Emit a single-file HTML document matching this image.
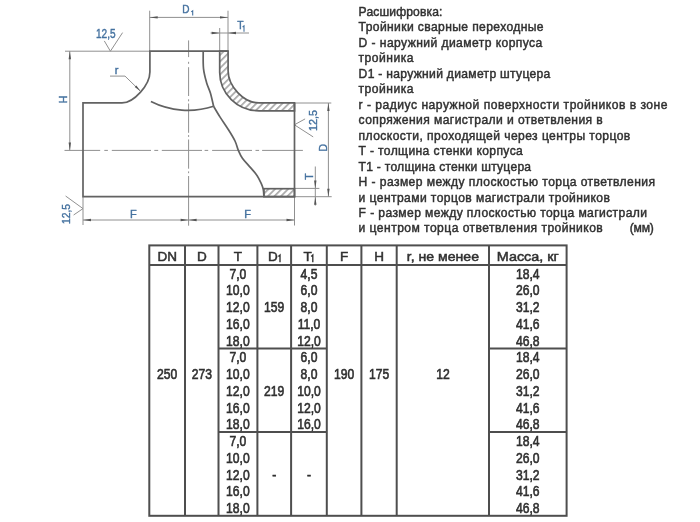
<!DOCTYPE html>
<html><head><meta charset="utf-8"><title>Тройники</title>
<style>
html,body{margin:0;padding:0;background:#fff;width:700px;height:522px;overflow:hidden}
svg{display:block;filter:blur(0.3px)}
text{font-family:"Liberation Sans",sans-serif}
</style></head><body>
<svg width="700" height="522" viewBox="0 0 700 522">
<defs><pattern id="h" patternUnits="userSpaceOnUse" width="4.61" height="4.61" patternTransform="rotate(45)"><line x1="0.88" y1="-1" x2="0.88" y2="6" stroke="#969696" stroke-width="1.4"/></pattern></defs>
<line x1="65" y1="51.2" x2="150" y2="51.2" stroke="#909090" stroke-width="1.0"/>
<line x1="149.7" y1="10.7" x2="149.7" y2="51.2" stroke="#909090" stroke-width="1.0"/>
<line x1="228" y1="10.7" x2="228" y2="51.2" stroke="#909090" stroke-width="1.0"/>
<line x1="219.7" y1="28" x2="219.7" y2="51.2" stroke="#909090" stroke-width="1.0"/>
<line x1="149.7" y1="17.4" x2="228" y2="17.4" stroke="#909090" stroke-width="1.0"/>
<path d="M149.7,17.4 L157.7,16.2 L157.7,18.6 Z" fill="#555"/>
<path d="M228.0,17.4 L220.0,18.6 L220.0,16.2 Z" fill="#555"/>
<line x1="210.5" y1="33" x2="249" y2="33" stroke="#909090" stroke-width="1.0"/>
<path d="M219.7,33.0 L211.7,34.2 L211.7,31.8 Z" fill="#555"/>
<path d="M228.0,33.0 L236.0,31.8 L236.0,34.2 Z" fill="#555"/>
<line x1="69.8" y1="51.2" x2="69.8" y2="150.4" stroke="#909090" stroke-width="1.0"/>
<path d="M69.8,51.2 L71.0,59.2 L68.6,59.2 Z" fill="#555"/>
<path d="M69.8,150.4 L68.6,142.4 L71.0,142.4 Z" fill="#555"/>
<line x1="64.5" y1="150.4" x2="100.2" y2="150.4" stroke="#909090" stroke-width="1.0"/>
<line x1="104.3" y1="150.4" x2="107.9" y2="150.4" stroke="#909090" stroke-width="1.0"/>
<line x1="111.8" y1="150.4" x2="151" y2="150.4" stroke="#909090" stroke-width="1.0"/>
<line x1="154.3" y1="150.4" x2="158.2" y2="150.4" stroke="#909090" stroke-width="1.0"/>
<line x1="161.8" y1="150.4" x2="202" y2="150.4" stroke="#909090" stroke-width="1.0"/>
<line x1="204.6" y1="150.4" x2="208.2" y2="150.4" stroke="#909090" stroke-width="1.0"/>
<line x1="212.1" y1="150.4" x2="252" y2="150.4" stroke="#909090" stroke-width="1.0"/>
<line x1="255.5" y1="150.4" x2="259.1" y2="150.4" stroke="#909090" stroke-width="1.0"/>
<line x1="262.1" y1="150.4" x2="302.9" y2="150.4" stroke="#909090" stroke-width="1.0"/>
<line x1="188.6" y1="40.4" x2="188.6" y2="57.1" stroke="#909090" stroke-width="1.0"/>
<line x1="188.6" y1="61.8" x2="188.6" y2="63.8" stroke="#909090" stroke-width="1.0"/>
<line x1="188.6" y1="67.2" x2="188.6" y2="96" stroke="#909090" stroke-width="1.0"/>
<line x1="188.6" y1="99.3" x2="188.6" y2="101.3" stroke="#909090" stroke-width="1.0"/>
<line x1="188.6" y1="103.5" x2="188.6" y2="132.8" stroke="#909090" stroke-width="1.0"/>
<line x1="188.6" y1="135.1" x2="188.6" y2="136.9" stroke="#909090" stroke-width="1.0"/>
<line x1="188.6" y1="139.5" x2="188.6" y2="168.7" stroke="#909090" stroke-width="1.0"/>
<line x1="188.6" y1="171.4" x2="188.6" y2="173.2" stroke="#909090" stroke-width="1.0"/>
<line x1="188.6" y1="176" x2="188.6" y2="225.7" stroke="#909090" stroke-width="1.0"/>
<line x1="83" y1="196.7" x2="83" y2="225" stroke="#909090" stroke-width="1.0"/>
<line x1="294.5" y1="196.7" x2="294.5" y2="225.5" stroke="#909090" stroke-width="1.0"/>
<line x1="83" y1="220" x2="294.5" y2="220" stroke="#909090" stroke-width="1.0"/>
<path d="M83.0,220.0 L91.0,218.8 L91.0,221.2 Z" fill="#555"/>
<path d="M188.6,220.0 L180.6,221.2 L180.6,218.8 Z" fill="#555"/>
<path d="M188.6,220.0 L196.6,218.8 L196.6,221.2 Z" fill="#555"/>
<path d="M294.5,220.0 L286.5,221.2 L286.5,218.8 Z" fill="#555"/>
<line x1="294.5" y1="103" x2="331.3" y2="103" stroke="#909090" stroke-width="1.0"/>
<line x1="294.5" y1="188.4" x2="319.4" y2="188.4" stroke="#909090" stroke-width="1.0"/>
<line x1="294.5" y1="196.7" x2="331.7" y2="196.7" stroke="#909090" stroke-width="1.0"/>
<line x1="328.4" y1="103" x2="328.4" y2="196.7" stroke="#909090" stroke-width="1.0"/>
<path d="M328.4,103.0 L329.6,111.0 L327.2,111.0 Z" fill="#555"/>
<path d="M328.4,196.7 L327.2,188.7 L329.6,188.7 Z" fill="#555"/>
<line x1="315.3" y1="166.5" x2="315.3" y2="205.6" stroke="#909090" stroke-width="1.0"/>
<path d="M315.3,188.4 L314.1,180.4 L316.5,180.4 Z" fill="#555"/>
<path d="M315.3,196.7 L316.5,204.7 L314.1,204.7 Z" fill="#555"/>
<path d="M110,76.1 L125,76.1 L140,90.7" fill="none" stroke="#909090" stroke-width="1.0"/>
<path d="M140.5,91.2 L134.7,87.1 L136.4,85.4 Z" fill="#555"/>
<path d="M104.3,40.9 L110.4,51.2 L122.6,32.6" fill="none" stroke="#909090" stroke-width="1.0"/>
<path d="M65.6,196 L83,208.6 L73.6,215" fill="none" stroke="#909090" stroke-width="1.0"/>
<path d="M305.1,118.9 L294.4,124.8 L313.2,136.9" fill="none" stroke="#909090" stroke-width="1.0"/>
<path d="M219.7,51.2 L228.1,51.2 L228.1,70.8 C228.1,86 243.5,102.9 259,102.9 L294.5,102.9 L294.5,110.8 L259,110.8 C237.4,110.8 219.7,93.6 219.7,72.6 Z" fill="url(#h)" stroke="#626262" stroke-width="1.7"/>
<rect x="263.9" y="188.7" width="30.6" height="8" fill="url(#h)" stroke="#626262" stroke-width="1.7"/>
<path d="M228.1,51.2 L149.9,51.2 L149.9,72 C149.9,85 133.7,102.9 122,102.9 L83,102.9 L83,196.7 L294.5,196.7 L294.5,102.9" fill="none" stroke="#626262" stroke-width="1.7" stroke-linejoin="miter"/>
<path d="M150.9,101.6 A82.5,82.5 0 0 0 213.6,106.3" fill="none" stroke="#626262" stroke-width="1.7"/>
<path d="M203.2,51.2 C203.25,54.10 202.93,63.35 203.5,68.6 C204.07,73.85 205.45,78.63 206.6,82.7 C207.75,86.77 209.23,89.07 210.4,93 C211.57,96.93 213.07,104.08 213.6,106.3" fill="none" stroke="#626262" stroke-width="1.7"/>
<path d="M213.6,106.3 C214.68,108.10 217.68,113.28 220.1,117.1 C222.52,120.92 225.62,125.22 228.1,129.2 C230.58,133.18 233.30,137.48 235,141 C236.70,144.52 237.07,147.42 238.3,150.3 C239.53,153.18 240.40,155.45 242.4,158.3 C244.40,161.15 247.87,164.55 250.3,167.4 C252.73,170.25 255.18,172.73 257,175.4 C258.82,178.07 260.15,181.05 261.2,183.4 C262.25,185.75 262.85,187.28 263.3,189.5 C263.75,191.72 263.80,195.50 263.9,196.7" fill="none" stroke="#626262" stroke-width="1.7"/>
<text x="96" y="38" font-size="12" fill="#44719f" stroke="#44719f" stroke-width="0.4" text-anchor="start" textLength="19.6" lengthAdjust="spacingAndGlyphs">12,5</text>
<text x="182.3" y="12.7" font-size="10" fill="#44719f" stroke="#44719f" stroke-width="0.4" text-anchor="start" >D</text>
<path d="M191.2,11.9 L192.7,10.8 L192.7,15.6" fill="none" stroke="#44719f" stroke-width="1.1"/>
<text x="237.2" y="28.7" font-size="10.3" fill="#44719f" stroke="#44719f" stroke-width="0.4" text-anchor="start" >T</text>
<path d="M242.6,27.0 L244.0,25.9 L244.0,31.8" fill="none" stroke="#44719f" stroke-width="1.1"/>
<text x="114.8" y="73.6" font-size="11" fill="#44719f" stroke="#44719f" stroke-width="0.4" text-anchor="start" >r</text>
<text x="130.1" y="217.8" font-size="11" fill="#44719f" stroke="#44719f" stroke-width="0.4" text-anchor="start" >F</text>
<text x="244.3" y="218" font-size="11" fill="#44719f" stroke="#44719f" stroke-width="0.4" text-anchor="start" >F</text>
<text transform="translate(66.5,103.2) rotate(-90)" font-size="10.5" fill="#44719f" stroke="#44719f" stroke-width="0.4">H</text>
<text transform="translate(70,224) rotate(-90)" font-size="11" fill="#44719f" stroke="#44719f" stroke-width="0.4" textLength="20" lengthAdjust="spacingAndGlyphs">12,5</text>
<text transform="translate(317.2,131) rotate(-90)" font-size="11" fill="#44719f" stroke="#44719f" stroke-width="0.4" textLength="21" lengthAdjust="spacingAndGlyphs">12,5</text>
<text transform="translate(327.3,151.4) rotate(-90)" font-size="10.5" fill="#44719f" stroke="#44719f" stroke-width="0.4">D</text>
<text transform="translate(313,179.8) rotate(-90)" font-size="10.5" fill="#44719f" stroke="#44719f" stroke-width="0.4">T</text>
<text x="358.6" y="16.00" font-size="12.1" fill="#303030" stroke="#303030" stroke-width="0.45" textLength="83.8" lengthAdjust="spacing">Расшифровка:</text>
<text x="358.6" y="31.46" font-size="12.1" fill="#303030" stroke="#303030" stroke-width="0.45" textLength="185.0" lengthAdjust="spacing">Тройники сварные переходные</text>
<text x="358.6" y="46.92" font-size="12.1" fill="#303030" stroke="#303030" stroke-width="0.45" textLength="183.7" lengthAdjust="spacing">D - наружний диаметр корпуса</text>
<text x="358.6" y="62.38" font-size="12.1" fill="#303030" stroke="#303030" stroke-width="0.45" textLength="54.8" lengthAdjust="spacing">тройника</text>
<text x="358.6" y="77.84" font-size="12.1" fill="#303030" stroke="#303030" stroke-width="0.45" textLength="191.7" lengthAdjust="spacing">D1 - наружний диаметр штуцера</text>
<text x="358.6" y="93.30" font-size="12.1" fill="#303030" stroke="#303030" stroke-width="0.45" textLength="54.8" lengthAdjust="spacing">тройника</text>
<text x="358.6" y="108.76" font-size="12.1" fill="#303030" stroke="#303030" stroke-width="0.45" textLength="308.9" lengthAdjust="spacing">r - радиус наружной поверхности тройников в зоне</text>
<text x="358.6" y="124.22" font-size="12.1" fill="#303030" stroke="#303030" stroke-width="0.45" textLength="244.2" lengthAdjust="spacing">сопряжения магистрали и ответвления в</text>
<text x="358.6" y="139.68" font-size="12.1" fill="#303030" stroke="#303030" stroke-width="0.45" textLength="271.7" lengthAdjust="spacing">плоскости, проходящей через центры торцов</text>
<text x="358.6" y="155.14" font-size="12.1" fill="#303030" stroke="#303030" stroke-width="0.45" textLength="164.2" lengthAdjust="spacing">T - толщина стенки корпуса</text>
<text x="358.6" y="170.60" font-size="12.1" fill="#303030" stroke="#303030" stroke-width="0.45" textLength="172.5" lengthAdjust="spacing">T1 - толщина стенки штуцера</text>
<text x="358.6" y="186.06" font-size="12.1" fill="#303030" stroke="#303030" stroke-width="0.45" textLength="296.4" lengthAdjust="spacing">H - размер между плоскостью торца ответвления</text>
<text x="358.6" y="201.52" font-size="12.1" fill="#303030" stroke="#303030" stroke-width="0.45" textLength="251.3" lengthAdjust="spacing">и центрами торцов магистрали тройников</text>
<text x="358.6" y="216.98" font-size="12.1" fill="#303030" stroke="#303030" stroke-width="0.45" textLength="288.4" lengthAdjust="spacing">F - размер между плоскостью торца магистрали</text>
<text x="358.6" y="232.44" font-size="12.1" fill="#303030" stroke="#303030" stroke-width="0.45" textLength="244.2" lengthAdjust="spacing">и центром торца ответвления тройников</text>
<text x="629.7" y="232.44" font-size="12.1" fill="#303030" stroke="#303030" stroke-width="0.45" textLength="24.2" lengthAdjust="spacing">(мм)</text>
<rect x="149.3" y="245.4" width="417.3" height="270.4" fill="none" stroke="#4e4e4e" stroke-width="2"/>
<line x1="185" y1="245.4" x2="185" y2="515.8" stroke="#4e4e4e" stroke-width="2"/>
<line x1="218.5" y1="245.4" x2="218.5" y2="515.8" stroke="#4e4e4e" stroke-width="2"/>
<line x1="257.4" y1="245.4" x2="257.4" y2="515.8" stroke="#4e4e4e" stroke-width="2"/>
<line x1="291.1" y1="245.4" x2="291.1" y2="515.8" stroke="#4e4e4e" stroke-width="2"/>
<line x1="326.8" y1="245.4" x2="326.8" y2="515.8" stroke="#4e4e4e" stroke-width="2"/>
<line x1="361.4" y1="245.4" x2="361.4" y2="515.8" stroke="#4e4e4e" stroke-width="2"/>
<line x1="396.7" y1="245.4" x2="396.7" y2="515.8" stroke="#4e4e4e" stroke-width="2"/>
<line x1="489" y1="245.4" x2="489" y2="515.8" stroke="#4e4e4e" stroke-width="2"/>
<line x1="149.3" y1="265" x2="566.6" y2="265" stroke="#4e4e4e" stroke-width="2"/>
<line x1="218.5" y1="348.4" x2="326.8" y2="348.4" stroke="#4e4e4e" stroke-width="2"/>
<line x1="489" y1="348.4" x2="566.6" y2="348.4" stroke="#4e4e4e" stroke-width="2"/>
<line x1="218.5" y1="432.1" x2="326.8" y2="432.1" stroke="#4e4e4e" stroke-width="2"/>
<line x1="489" y1="432.1" x2="566.6" y2="432.1" stroke="#4e4e4e" stroke-width="2"/>
<text transform="translate(167.2,260.5) scale(1.0,1)" font-size="13.5" fill="#303030" stroke="#303030" stroke-width="0.5" text-anchor="middle">DN</text>
<text transform="translate(201.8,260.5) scale(1.0,1)" font-size="13.5" fill="#303030" stroke="#303030" stroke-width="0.5" text-anchor="middle">D</text>
<text transform="translate(237.9,260.5) scale(1.0,1)" font-size="13.5" fill="#303030" stroke="#303030" stroke-width="0.5" text-anchor="middle">T</text>
<text x="268.1" y="260.5" font-size="13.5" fill="#303030" stroke="#303030" stroke-width="0.5">D</text>
<path d="M278.4,256.6 L280.0,255.1 L280.0,262.3" fill="none" stroke="#303030" stroke-width="1.35"/>
<text x="303.4" y="260.5" font-size="13.5" fill="#303030" stroke="#303030" stroke-width="0.5">T</text>
<path d="M311.2,256.6 L312.8,255.1 L312.8,262.3" fill="none" stroke="#303030" stroke-width="1.35"/>
<text transform="translate(344.1,260.5) scale(1.0,1)" font-size="13.5" fill="#303030" stroke="#303030" stroke-width="0.5" text-anchor="middle">F</text>
<text transform="translate(379.0,260.5) scale(1.0,1)" font-size="13.5" fill="#303030" stroke="#303030" stroke-width="0.5" text-anchor="middle">H</text>
<text transform="translate(442.9,260.5) scale(1.044,1)" font-size="13.5" fill="#303030" stroke="#303030" stroke-width="0.5" text-anchor="middle">r, не менее</text>
<text transform="translate(527.8,260.5) scale(1.067,1)" font-size="13.5" fill="#303030" stroke="#303030" stroke-width="0.5" text-anchor="middle">Масса, кг</text>
<text transform="translate(237.9,278.6) scale(0.88,1)" font-size="13.8" fill="#303030" stroke="#303030" stroke-width="0.6" text-anchor="middle">7,0</text>
<text transform="translate(527.8,278.6) scale(0.88,1)" font-size="13.8" fill="#303030" stroke="#303030" stroke-width="0.6" text-anchor="middle">18,4</text>
<text transform="translate(309.0,278.6) scale(0.88,1)" font-size="13.8" fill="#303030" stroke="#303030" stroke-width="0.6" text-anchor="middle">4,5</text>
<text transform="translate(237.9,295.3) scale(0.88,1)" font-size="13.8" fill="#303030" stroke="#303030" stroke-width="0.6" text-anchor="middle">10,0</text>
<text transform="translate(527.8,295.3) scale(0.88,1)" font-size="13.8" fill="#303030" stroke="#303030" stroke-width="0.6" text-anchor="middle">26,0</text>
<text transform="translate(309.0,295.3) scale(0.88,1)" font-size="13.8" fill="#303030" stroke="#303030" stroke-width="0.6" text-anchor="middle">6,0</text>
<text transform="translate(237.9,312.1) scale(0.88,1)" font-size="13.8" fill="#303030" stroke="#303030" stroke-width="0.6" text-anchor="middle">12,0</text>
<text transform="translate(527.8,312.1) scale(0.88,1)" font-size="13.8" fill="#303030" stroke="#303030" stroke-width="0.6" text-anchor="middle">31,2</text>
<text transform="translate(309.0,312.1) scale(0.88,1)" font-size="13.8" fill="#303030" stroke="#303030" stroke-width="0.6" text-anchor="middle">8,0</text>
<text transform="translate(237.9,328.8) scale(0.88,1)" font-size="13.8" fill="#303030" stroke="#303030" stroke-width="0.6" text-anchor="middle">16,0</text>
<text transform="translate(527.8,328.8) scale(0.88,1)" font-size="13.8" fill="#303030" stroke="#303030" stroke-width="0.6" text-anchor="middle">41,6</text>
<text transform="translate(309.0,328.8) scale(0.88,1)" font-size="13.8" fill="#303030" stroke="#303030" stroke-width="0.6" text-anchor="middle">11,0</text>
<text transform="translate(237.9,345.6) scale(0.88,1)" font-size="13.8" fill="#303030" stroke="#303030" stroke-width="0.6" text-anchor="middle">18,0</text>
<text transform="translate(527.8,345.6) scale(0.88,1)" font-size="13.8" fill="#303030" stroke="#303030" stroke-width="0.6" text-anchor="middle">46,8</text>
<text transform="translate(309.0,345.6) scale(0.88,1)" font-size="13.8" fill="#303030" stroke="#303030" stroke-width="0.6" text-anchor="middle">12,0</text>
<text transform="translate(237.9,362.3) scale(0.88,1)" font-size="13.8" fill="#303030" stroke="#303030" stroke-width="0.6" text-anchor="middle">7,0</text>
<text transform="translate(527.8,362.3) scale(0.88,1)" font-size="13.8" fill="#303030" stroke="#303030" stroke-width="0.6" text-anchor="middle">18,4</text>
<text transform="translate(309.0,362.3) scale(0.88,1)" font-size="13.8" fill="#303030" stroke="#303030" stroke-width="0.6" text-anchor="middle">6,0</text>
<text transform="translate(237.9,379.0) scale(0.88,1)" font-size="13.8" fill="#303030" stroke="#303030" stroke-width="0.6" text-anchor="middle">10,0</text>
<text transform="translate(527.8,379.0) scale(0.88,1)" font-size="13.8" fill="#303030" stroke="#303030" stroke-width="0.6" text-anchor="middle">26,0</text>
<text transform="translate(309.0,379.0) scale(0.88,1)" font-size="13.8" fill="#303030" stroke="#303030" stroke-width="0.6" text-anchor="middle">8,0</text>
<text transform="translate(237.9,395.8) scale(0.88,1)" font-size="13.8" fill="#303030" stroke="#303030" stroke-width="0.6" text-anchor="middle">12,0</text>
<text transform="translate(527.8,395.8) scale(0.88,1)" font-size="13.8" fill="#303030" stroke="#303030" stroke-width="0.6" text-anchor="middle">31,2</text>
<text transform="translate(309.0,395.8) scale(0.88,1)" font-size="13.8" fill="#303030" stroke="#303030" stroke-width="0.6" text-anchor="middle">10,0</text>
<text transform="translate(237.9,412.5) scale(0.88,1)" font-size="13.8" fill="#303030" stroke="#303030" stroke-width="0.6" text-anchor="middle">16,0</text>
<text transform="translate(527.8,412.5) scale(0.88,1)" font-size="13.8" fill="#303030" stroke="#303030" stroke-width="0.6" text-anchor="middle">41,6</text>
<text transform="translate(309.0,412.5) scale(0.88,1)" font-size="13.8" fill="#303030" stroke="#303030" stroke-width="0.6" text-anchor="middle">12,0</text>
<text transform="translate(237.9,429.3) scale(0.88,1)" font-size="13.8" fill="#303030" stroke="#303030" stroke-width="0.6" text-anchor="middle">18,0</text>
<text transform="translate(527.8,429.3) scale(0.88,1)" font-size="13.8" fill="#303030" stroke="#303030" stroke-width="0.6" text-anchor="middle">46,8</text>
<text transform="translate(309.0,429.3) scale(0.88,1)" font-size="13.8" fill="#303030" stroke="#303030" stroke-width="0.6" text-anchor="middle">16,0</text>
<text transform="translate(237.9,446.0) scale(0.88,1)" font-size="13.8" fill="#303030" stroke="#303030" stroke-width="0.6" text-anchor="middle">7,0</text>
<text transform="translate(527.8,446.0) scale(0.88,1)" font-size="13.8" fill="#303030" stroke="#303030" stroke-width="0.6" text-anchor="middle">18,4</text>
<text transform="translate(237.9,462.7) scale(0.88,1)" font-size="13.8" fill="#303030" stroke="#303030" stroke-width="0.6" text-anchor="middle">10,0</text>
<text transform="translate(527.8,462.7) scale(0.88,1)" font-size="13.8" fill="#303030" stroke="#303030" stroke-width="0.6" text-anchor="middle">26,0</text>
<text transform="translate(237.9,479.5) scale(0.88,1)" font-size="13.8" fill="#303030" stroke="#303030" stroke-width="0.6" text-anchor="middle">12,0</text>
<text transform="translate(527.8,479.5) scale(0.88,1)" font-size="13.8" fill="#303030" stroke="#303030" stroke-width="0.6" text-anchor="middle">31,2</text>
<text transform="translate(237.9,496.2) scale(0.88,1)" font-size="13.8" fill="#303030" stroke="#303030" stroke-width="0.6" text-anchor="middle">16,0</text>
<text transform="translate(527.8,496.2) scale(0.88,1)" font-size="13.8" fill="#303030" stroke="#303030" stroke-width="0.6" text-anchor="middle">41,6</text>
<text transform="translate(237.9,513.0) scale(0.88,1)" font-size="13.8" fill="#303030" stroke="#303030" stroke-width="0.6" text-anchor="middle">18,0</text>
<text transform="translate(527.8,513.0) scale(0.88,1)" font-size="13.8" fill="#303030" stroke="#303030" stroke-width="0.6" text-anchor="middle">46,8</text>
<text transform="translate(274.2,312.1) scale(0.88,1)" font-size="13.8" fill="#303030" stroke="#303030" stroke-width="0.6" text-anchor="middle">159</text>
<text transform="translate(274.2,395.8) scale(0.88,1)" font-size="13.8" fill="#303030" stroke="#303030" stroke-width="0.6" text-anchor="middle">219</text>
<text transform="translate(274.2,479.5) scale(0.88,1)" font-size="13.8" fill="#303030" stroke="#303030" stroke-width="0.6" text-anchor="middle">-</text>
<text transform="translate(309.0,479.5) scale(0.88,1)" font-size="13.8" fill="#303030" stroke="#303030" stroke-width="0.6" text-anchor="middle">-</text>
<text transform="translate(167.2,379.0) scale(0.88,1)" font-size="13.8" fill="#303030" stroke="#303030" stroke-width="0.6" text-anchor="middle">250</text>
<text transform="translate(201.8,379.0) scale(0.88,1)" font-size="13.8" fill="#303030" stroke="#303030" stroke-width="0.6" text-anchor="middle">273</text>
<text transform="translate(344.1,379.0) scale(0.88,1)" font-size="13.8" fill="#303030" stroke="#303030" stroke-width="0.6" text-anchor="middle">190</text>
<text transform="translate(379.0,379.0) scale(0.88,1)" font-size="13.8" fill="#303030" stroke="#303030" stroke-width="0.6" text-anchor="middle">175</text>
<text transform="translate(442.9,379.0) scale(0.88,1)" font-size="13.8" fill="#303030" stroke="#303030" stroke-width="0.6" text-anchor="middle">12</text>
</svg>
</body></html>
